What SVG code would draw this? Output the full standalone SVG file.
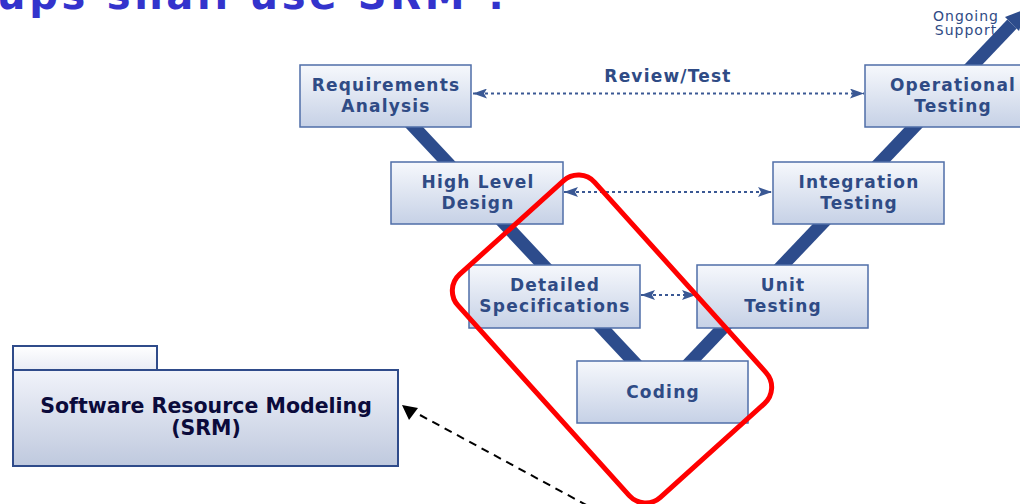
<svg xmlns="http://www.w3.org/2000/svg" width="1020" height="504" viewBox="0 0 1020 504">
  <defs>
    <linearGradient id="boxFill" x1="0" y1="0" x2="0" y2="1">
      <stop offset="0" stop-color="#F6F8FC"/>
      <stop offset="1" stop-color="#C6D1E6"/>
    </linearGradient>
    <linearGradient id="pkgFill" x1="0" y1="0" x2="0" y2="1">
      <stop offset="0" stop-color="#F1F3FA"/>
      <stop offset="1" stop-color="#BFC9DE"/>
    </linearGradient>
    <linearGradient id="tabFill" x1="0" y1="0" x2="0" y2="1">
      <stop offset="0" stop-color="#FFFFFF"/>
      <stop offset="1" stop-color="#E9ECF5"/>
    </linearGradient>
    <marker id="dotHead" viewBox="0 0 14 10" refX="14" refY="5" markerWidth="14" markerHeight="10" markerUnits="userSpaceOnUse" orient="auto-start-reverse">
      <path d="M0,0 L14,5 L0,10 L3,5 Z" fill="#3A5894"/>
    </marker>
  </defs>
  <style>
    .box { fill: url(#boxFill); stroke: #4F6EA8; stroke-width: 1.5; }
    .lbl { font-family: "DejaVu Sans", Verdana, sans-serif; font-weight: bold; font-size: 17px; fill: #2F4B85; text-anchor: middle; letter-spacing: 1.2px; }
    .vline { stroke: #2D4C8C; stroke-width: 13; fill: none; }
    .link { stroke: #3A5894; stroke-width: 2; stroke-dasharray: 3 3; fill: none; }
  </style>

  <!-- heading, mostly above the top edge -->
  <text x="-3" y="9" font-family="DejaVu Sans, Verdana, sans-serif" font-weight="bold" font-size="40" fill="#3333CC" textLength="512" lengthAdjust="spacing">ups shall use SRM ?</text>

  <!-- V-model spine -->
  <g id="spine">
    <line class="vline" x1="385" y1="96" x2="662" y2="392"/>
    <line class="vline" x1="662" y1="392" x2="1012" y2="24"/>
    <polygon points="1026,9 1019,31 1005,17" fill="#2D4C8C"/>
  </g>

  <text x="966" y="21" font-family="DejaVu Sans, Verdana, sans-serif" font-size="14" fill="#2F4B85" text-anchor="middle" letter-spacing="1">Ongoing</text>
  <text x="966" y="35" font-family="DejaVu Sans, Verdana, sans-serif" font-size="14" fill="#2F4B85" text-anchor="middle" letter-spacing="1">Support</text>

  <g id="req">
    <rect class="box" x="300" y="65" width="171" height="62"/>
    <text class="lbl" x="386" y="91">Requirements</text>
    <text class="lbl" x="386" y="112">Analysis</text>
  </g>
  <g id="hld">
    <rect class="box" x="391" y="162" width="172" height="62"/>
    <text class="lbl" x="478" y="188">High Level</text>
    <text class="lbl" x="478" y="209">Design</text>
  </g>
  <g id="dspec">
    <rect class="box" x="469" y="265" width="171" height="63"/>
    <text class="lbl" x="555" y="291">Detailed</text>
    <text class="lbl" x="555" y="312">Specifications</text>
  </g>
  <g id="coding">
    <rect class="box" x="577" y="361" width="171" height="62"/>
    <text class="lbl" x="663" y="398">Coding</text>
  </g>
  <g id="unit">
    <rect class="box" x="697" y="265" width="171" height="63"/>
    <text class="lbl" x="783" y="291">Unit</text>
    <text class="lbl" x="783" y="312">Testing</text>
  </g>
  <g id="integ">
    <rect class="box" x="773" y="162" width="171" height="62"/>
    <text class="lbl" x="859" y="188">Integration</text>
    <text class="lbl" x="859" y="209">Testing</text>
  </g>
  <g id="oper">
    <rect class="box" x="865" y="65" width="174" height="62"/>
    <text class="lbl" x="953" y="91">Operational</text>
    <text class="lbl" x="953" y="112">Testing</text>
  </g>

  <!-- verification links between matching levels -->
  <g id="links">
    <line class="link" x1="473" y1="93.5" x2="864" y2="93.5" marker-start="url(#dotHead)" marker-end="url(#dotHead)"/>
    <line class="link" x1="564" y1="192" x2="772" y2="192" marker-start="url(#dotHead)" marker-end="url(#dotHead)"/>
    <line class="link" x1="641" y1="295" x2="696" y2="295" marker-start="url(#dotHead)" marker-end="url(#dotHead)"/>
    <!-- dependency to the SRM package -->
    <line x1="420" y1="415" x2="590" y2="507" stroke="#000" stroke-width="2" stroke-dasharray="8 6"/>
    <polygon points="402,405 418,408 409,420" fill="#000"/>
  </g>

  <text class="lbl" x="668" y="82">Review/Test</text>

  <!-- SRM package -->
  <g id="srm">
    <rect x="13" y="346" width="144" height="24" fill="url(#tabFill)" stroke="#2F4B8A" stroke-width="2"/>
    <rect x="13" y="370" width="385" height="96" fill="url(#pkgFill)" stroke="#2F4B8A" stroke-width="2"/>
    <text x="206" y="413" font-family="DejaVu Sans, Verdana, sans-serif" font-weight="bold" font-size="20.5" fill="#0B0B3B" text-anchor="middle">Software Resource Modeling</text>
    <text x="206" y="435" font-family="DejaVu Sans, Verdana, sans-serif" font-weight="bold" font-size="20.5" fill="#0B0B3B" text-anchor="middle">(SRM)</text>
  </g>

  <!-- highlight around the lower levels -->
  <g id="highlight">
    <rect x="-150" y="-92" width="300" height="184" rx="22" fill="none" stroke="#FF0000" stroke-width="5" transform="translate(612,339) rotate(48)"/>
  </g>
</svg>
